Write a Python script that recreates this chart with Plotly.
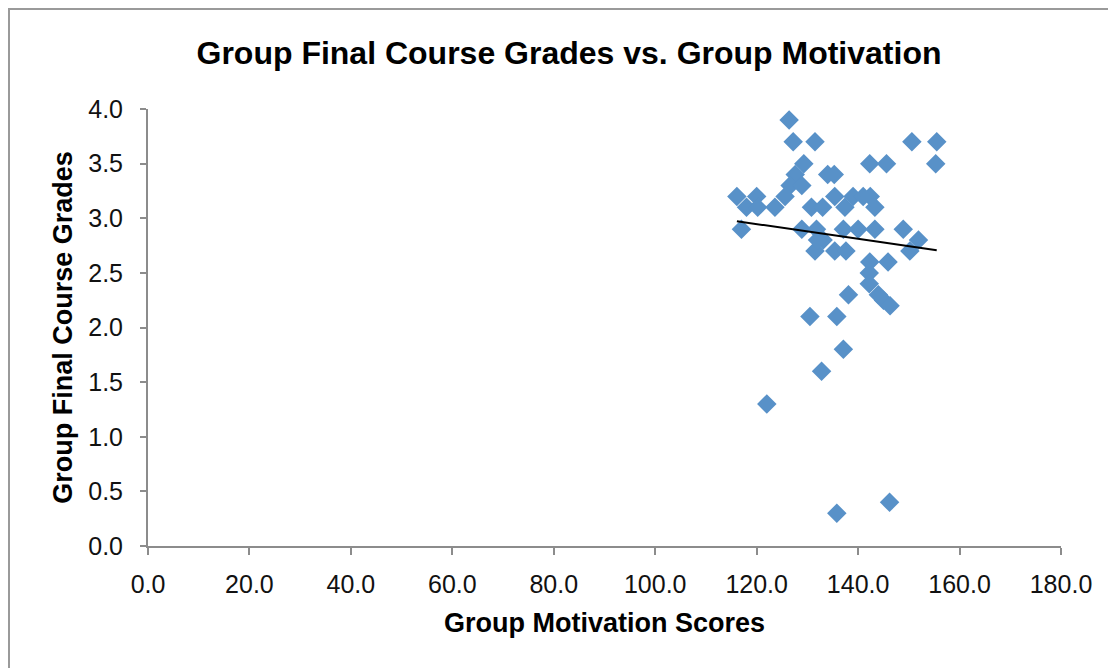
import numpy as np
import plotly.graph_objects as go

# Group Motivation Scores (x) and Group Final Course Grades (y)
motivation = [126.4, 127.2, 131.5, 150.6, 155.5, 155.3, 142.3, 145.6, 129.3, 127.6,
              134.0, 135.3, 126.6, 128.9, 125.6, 116.1, 120.0, 118.0, 120.2, 123.6,
              130.8, 133.0, 137.4, 143.3, 135.4, 139.0, 141.0, 142.4, 117.0, 128.9,
              131.8, 137.1, 140.0, 143.3, 148.9, 151.9, 150.2, 131.5, 133.1, 135.4,
              137.6, 142.3, 145.9, 142.2, 142.2, 138.1, 144.0, 145.0, 146.3, 130.5,
              135.8, 137.1, 132.8, 122.0, 135.8, 146.2, 132.0]
grades = [3.9, 3.7, 3.7, 3.7, 3.7, 3.5, 3.5, 3.5, 3.5, 3.4,
          3.4, 3.4, 3.3, 3.3, 3.2, 3.2, 3.2, 3.1, 3.1, 3.1,
          3.1, 3.1, 3.1, 3.1, 3.2, 3.2, 3.2, 3.2, 2.9, 2.9,
          2.9, 2.9, 2.9, 2.9, 2.9, 2.8, 2.7, 2.7, 2.8, 2.7,
          2.7, 2.6, 2.6, 2.5, 2.4, 2.3, 2.3, 2.25, 2.2, 2.1,
          2.1, 1.8, 1.6, 1.3, 0.3, 0.4, 2.8]

x_ticks = [0, 20, 40, 60, 80, 100, 120, 140, 160, 180]
y_ticks = [0.0, 0.5, 1.0, 1.5, 2.0, 2.5, 3.0, 3.5, 4.0]

xs = np.array(motivation)
ys = np.array(grades)
slope, intercept = np.polyfit(xs, ys, 1)
trend_x = np.array([xs.min(), xs.max()])
trend_y = slope * trend_x + intercept

FONT = "Liberation Sans, Arial, sans-serif"
AXIS_GREY = "#8c8c8c"

fig = go.Figure()
fig.add_trace(go.Scatter(
    x=motivation, y=grades, mode="markers",
    marker=dict(symbol="diamond", size=15, color="#5891c8",
                line=dict(width=0)),
    showlegend=False, hoverinfo="x+y"))
fig.add_trace(go.Scatter(
    x=trend_x, y=trend_y, mode="lines",
    line=dict(color="black", width=2), showlegend=False, hoverinfo="skip"))

W, H = 1116, 668
L, R, T, B = 140, 63, 101, 130
pw, ph = W - L - R, H - T - B

def px_x(p):
    return (p - L) / pw

def px_y(p):
    return (H - B - p) / ph

fig.update_layout(
    width=W, height=H,
    margin=dict(l=L, r=R, t=T, b=B, autoexpand=False),
    paper_bgcolor="white", plot_bgcolor="white",
    font=dict(family=FONT, color="black"),
    title=dict(text="<b>Group Final Course Grades vs. Group Motivation</b>",
               x=561 / W, xanchor="center", y=1 - 45 / H, yanchor="middle",
               font=dict(size=32, family=FONT, color="black")),
    xaxis=dict(range=[0, 180], tickvals=x_ticks, tickformat=".1f",
               showgrid=False, zeroline=False, showline=True,
               linecolor=AXIS_GREY, linewidth=2,
               ticks="outside", ticklen=7, tickwidth=2, tickcolor=AXIS_GREY,
               tickfont=dict(size=25, family=FONT, color="#111"),
               ticklabelstandoff=8,
               title=dict(text="<b>Group Motivation Scores</b>", standoff=16,
                          font=dict(size=27, family=FONT, color="black"))),
    yaxis=dict(range=[0, 4], tickvals=y_ticks, tickformat=".1f",
               showgrid=False, zeroline=False, showline=True,
               linecolor=AXIS_GREY, linewidth=2,
               ticks="outside", ticklen=6, tickwidth=2, tickcolor=AXIS_GREY,
               tickfont=dict(size=25, family=FONT, color="#111"),
               ticklabelstandoff=12,
               title=dict(text="<b>Group Final Course Grades</b>", standoff=8,
                          font=dict(size=27, family=FONT, color="black"))),
    shapes=[dict(type="rect", xref="paper", yref="paper",
                 x0=px_x(1), x1=px_x(1130), y0=px_y(680), y1=px_y(1),
                 line=dict(color="#9a9a9a", width=2), layer="below")],
)

fig.write_html("out.html")
